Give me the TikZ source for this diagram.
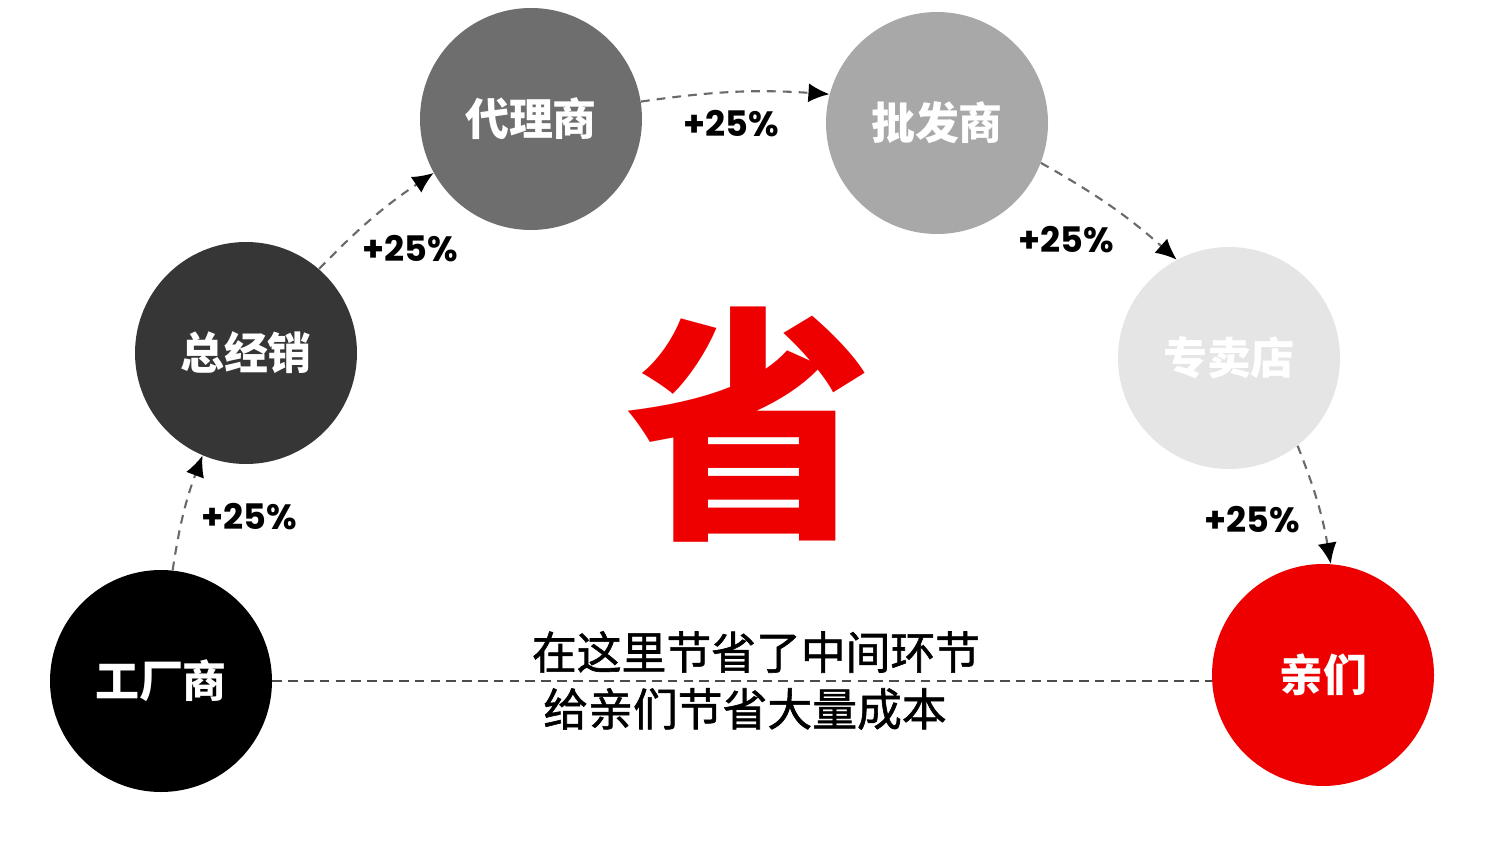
\documentclass[tikz,border=0pt]{standalone}
\usepackage{fontspec}
\usepackage{xcolor}
\usepackage{tikz}
\usetikzlibrary{arrows.meta, positioning, backgrounds}
\newfontfamily\cjk{Noto Sans CJK SC}
\newfontfamily\cjknote{Noto Sans CJK SC}[FakeBold=1.3]
\newfontfamily\numfont{Poppins}
\definecolor{dashgray}{HTML}{6A6A6A}
\definecolor{savered}{HTML}{EE0000}
\tikzstyle{flow} = [draw=dashgray, line width=1.2pt, dash pattern=on 5pt off 4pt, -{Latex[length=0.42cm,width=0.38cm,color=black]}]

\begin{document}
\begin{tikzpicture}[
    stage/.style={circle, draw=none, minimum size=4.44cm, inner sep=0pt, text=white, font=\cjk\bfseries\fontsize{25pt}{25pt}\selectfont},
    gain/.style={inner sep=0pt, font=\numfont\bfseries\fontsize{20pt}{20pt}\selectfont},
    note/.style={inner sep=0pt, font=\cjknote\fontsize{25.5pt}{25.5pt}\selectfont},
    link/.style={draw=black!70, line width=1pt, dash pattern=on 5.5pt off 3.5pt}
]
\fill[white] (0,0) rectangle (30,-17.04);

% Stages
\node (factory) [stage, fill=black] at (3.22,-13.62) {工厂商};
\node (general) [stage, fill=black!79] at (4.92,-7.06) {总经销};
\node (agent) [stage, fill=black!57] at (10.62,-2.38) {代理商};
\node (wholesale) [stage, fill=black!34] at (18.74,-2.46) {批发商};
\node (store) [stage, fill=black!10] at (24.58,-7.16) {专卖店};
\node (buyer) [stage, fill=savered] at (26.46,-13.5) {亲们};

% Markups
\draw [flow] (factory.84) to[bend left=6] (general.247);
\draw [flow] (general.49) to[bend left=6] (agent.209);
\draw [flow] (agent.9) to[bend left=6] (wholesale.165);
\draw [flow] (wholesale.-21) to[bend left=6] (store.118);
\draw [flow] (store.-52) to[bend left=6] (buyer.86);

\node (gain1) [gain] at (4.98,-10.34) {+25\%};
\node (gain2) [gain] at (8.2,-4.98) {+25\%};
\node (gain3) [gain] at (14.62,-2.48) {+25\%};
\node (gain4) [gain] at (21.32,-4.8) {+25\%};
\node (gain5) [gain] at (25.04,-10.4) {+25\%};

% Shortcut
\draw [link] (factory.east) -- (factory.east -| buyer.west);
\node (save) [inner sep=0pt, text=savered, font=\cjk\bfseries\fontsize{141pt}{141pt}\selectfont] at (14.98,-8.5) {省};
\node (note1) [note] at (15.12,-13.04) {在这里节省了中间环节};
\node (note2) [note] at (14.9,-14.18) {给亲们节省大量成本};

\end{tikzpicture}
\end{document}
